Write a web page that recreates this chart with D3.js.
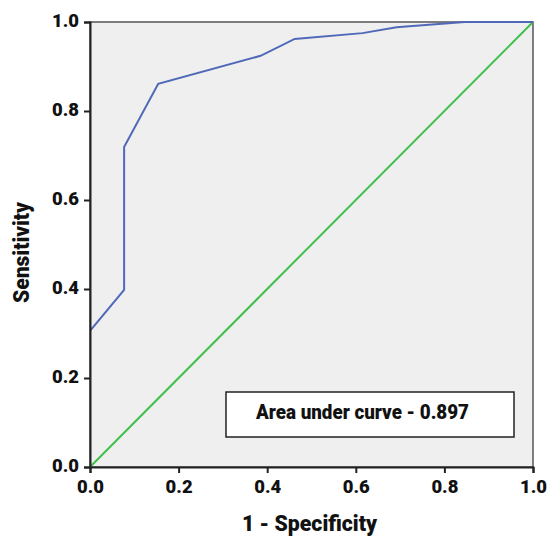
<!DOCTYPE html>
<html><head><meta charset="utf-8">
<script src="https://cdn.jsdelivr.net/npm/d3@7"></script>
<style>
body{margin:0;background:#fff;}
text{font-family:Roboto,"Liberation Sans",sans-serif;font-weight:900;}
</style></head>
<body>
<svg id="c" width="552" height="536"></svg>
<script>
const fpr = [0, 0.077, 0.077, 0.154, 0.385, 0.462, 0.615, 0.692, 0.846, 1.0];
const tpr = [0.306, 0.398, 0.719, 0.861, 0.924, 0.962, 0.975, 0.988, 1.0, 1.0];
const refLine = [0, 1];
const ticks = [0, 0.2, 0.4, 0.6, 0.8, 1.0];
const aucLabel = "Area under curve - 0.897";
const xTitle = "1 - Specificity";
const yTitle = "Sensitivity";

const svg = d3.select("#c");
const L = 90, R = 533, T = 22, B = 467;
const x = d3.scaleLinear().domain([0, 1]).range([L, R]);
const y = d3.scaleLinear().domain([0, 1]).range([B, T]);

svg.append("rect").attr("x", L).attr("y", T).attr("width", R - L).attr("height", B - T)
  .attr("fill", "#efefef").attr("stroke", "#555").attr("stroke-width", 1.5);

// reference diagonal
svg.append("path").datum(refLine)
  .attr("d", d3.line().x(d => x(d)).y(d => y(d)))
  .attr("stroke", "#3fbf4c").attr("stroke-width", 2).attr("fill", "none");

// ROC curve
const pts = fpr.map((v, i) => [v, tpr[i]]);
svg.append("path").datum(pts)
  .attr("d", d3.line().x(d => x(d[0])).y(d => y(d[1])))
  .attr("stroke", "#5068b8").attr("stroke-width", 2).attr("fill", "none");

// axes
const xa = svg.append("g").attr("transform", `translate(0,${B})`)
  .call(d3.axisBottom(x).tickValues(ticks).tickFormat(d3.format(".1f")).tickSize(6).tickPadding(7));
const ya = svg.append("g").attr("transform", `translate(${L},0)`)
  .call(d3.axisLeft(y).tickValues(ticks).tickFormat(d3.format(".1f")).tickSize(6).tickPadding(5));
[xa, ya].forEach(g => {
  g.select(".domain").attr("stroke", "#222").attr("stroke-width", 2);
  g.selectAll(".tick line").attr("stroke", "#222").attr("stroke-width", 2);
  g.selectAll(".tick text").attr("fill", "#111").style("font-size", "19px")
   .style("font-family", 'Roboto,"Liberation Sans",sans-serif').style("font-weight", "900")
   .attr("textLength", 27).attr("lengthAdjust", "spacingAndGlyphs");
});
ya.selectAll(".tick text").attr("dy", "0.25em");
xa.selectAll(".tick text").attr("dy", "0.71em");

// legend box
svg.append("rect").attr("x", 226).attr("y", 392).attr("width", 288).attr("height", 45)
  .attr("fill", "#fff").attr("stroke", "#222").attr("stroke-width", 1.5);
svg.append("text").attr("x", 362.5).attr("y", 418.5).attr("text-anchor", "middle")
  .attr("fill", "#111").style("font-size", "19.5px")
  .attr("textLength", 213).attr("lengthAdjust", "spacingAndGlyphs").text(aucLabel);

// titles
svg.append("text").attr("x", 309.5).attr("y", 531).attr("text-anchor", "middle")
  .attr("fill", "#111").style("font-size", "22px")
  .attr("textLength", 135).attr("lengthAdjust", "spacingAndGlyphs").text(xTitle);
svg.append("text").attr("transform", "translate(28.5,252.5) rotate(-90)").attr("text-anchor", "middle")
  .attr("fill", "#111").style("font-size", "22px")
  .attr("textLength", 101).attr("lengthAdjust", "spacingAndGlyphs").text(yTitle);
</script>
</body></html>
